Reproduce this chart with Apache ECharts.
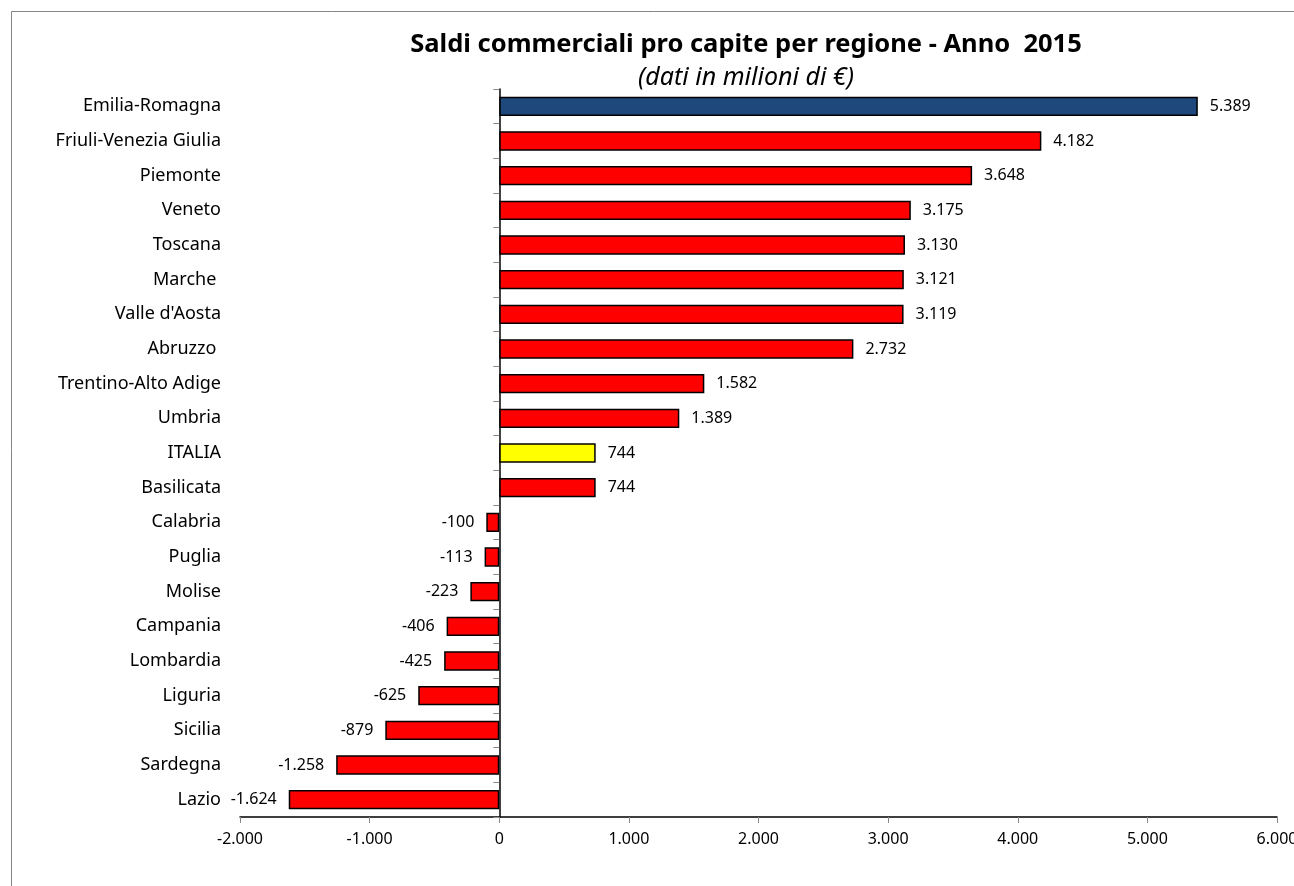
<!DOCTYPE html>
<html><head><meta charset="utf-8">
<script src="https://cdn.jsdelivr.net/npm/echarts@6/dist/echarts.min.js"></script>
<style>html,body{margin:0;padding:0;background:#fff}#c{width:1294px;height:886px}</style>
</head><body><div id="c"></div>
<script>
const categories = ["Emilia-Romagna","Friuli-Venezia Giulia","Piemonte","Veneto","Toscana","Marche ","Valle d'Aosta","Abruzzo ","Trentino-Alto Adige","Umbria","ITALIA","Basilicata","Calabria","Puglia","Molise","Campania","Lombardia","Liguria","Sicilia","Sardegna","Lazio"];
const values = [5389,4182,3648,3175,3130,3121,3119,2732,1582,1389,744,744,-100,-113,-223,-406,-425,-625,-879,-1258,-1624];
const barColors = {"Emilia-Romagna":"#1F497D","ITALIA":"#FFFF00"};
const xTicks = {min:-2000,max:6000,interval:1000};

function fmt(v){
  const s = Math.abs(v).toString().replace(/\B(?=(\d{3})+(?!\d))/g,'.');
  return (v<0?'-':'')+s;
}
const font = 'Noto Sans';
const chart = echarts.init(document.getElementById('c'));
chart.setOption({
  animation:false,
  backgroundColor:'#fff',
  graphic:[{type:'rect',shape:{x:11.5,y:11.5,width:1400,height:1000},style:{fill:'none',stroke:'#868686',lineWidth:1},silent:true}],
  title:[
    {text:'Saldi commerciali pro capite per regione - Anno  2015',left:741,top:27,textAlign:'center',textStyle:{fontFamily:font,fontWeight:'bold',fontSize:25.5,color:'#000'}},
    {text:'(dati in milioni di €)',left:741,top:60,textAlign:'center',textStyle:{fontFamily:font,fontStyle:'italic',fontWeight:'normal',fontSize:25,color:'#000'}}
  ],
  grid:{left:240,right:17,top:89,bottom:69,containLabel:false,outerBoundsMode:'none'},
  xAxis:{type:'value',min:xTicks.min,max:xTicks.max,interval:xTicks.interval,
    axisLine:{show:true,onZero:false,lineStyle:{color:'#000',width:1.5}},
    axisTick:{show:true,length:6,lineStyle:{color:'#888'}},
    splitLine:{show:false},
    axisLabel:{formatter:fmt,fontFamily:font,fontSize:16,color:'#000',margin:14}},
  yAxis:[
    {type:'category',data:categories,inverse:true,position:'left',
      axisLine:{show:false,onZero:false},
      axisTick:{show:false},
      axisLabel:{margin:19,fontFamily:font,fontSize:18,color:'#000',align:'right'}},
    {type:'category',data:categories,inverse:true,position:'left',
      axisLine:{show:true,onZero:true,lineStyle:{color:'#000',width:1.5}},
      axisTick:{show:true,length:6,lineStyle:{color:'#888'}},
      axisLabel:{show:false}}
  ],
  series:[{type:'bar',yAxisIndex:0,
    data:values.map((v,i)=>({value:v,itemStyle:{color:barColors[categories[i]]||'#FF0000'},label:{position:v<0?'left':'right'}})),
    barWidth:'56%',
    itemStyle:{borderColor:'#000',borderWidth:1.5},
    label:{show:true,formatter:p=>fmt(p.value),fontFamily:font,fontSize:16,color:'#000',distance:12}
  }]
});
</script></body></html>
